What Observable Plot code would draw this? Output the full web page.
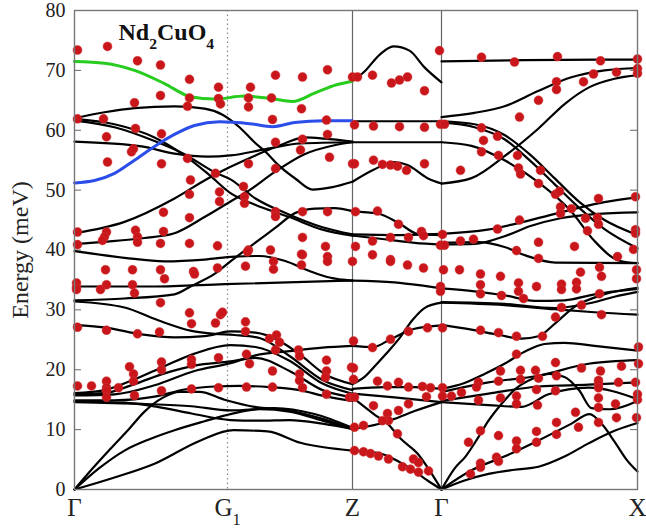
<!DOCTYPE html>
<html>
<head>
<meta charset="utf-8">
<script src="https://cdn.jsdelivr.net/npm/d3@7"></script>
<script src="https://cdn.jsdelivr.net/npm/@observablehq/plot@0.6"></script>
<style>
  html, body { margin: 0; padding: 0; background: #fff; }
  #chart { width: 646px; height: 530px; }
</style>
</head>
<body>
<div id="chart"></div>
<script>
// ---- axis values ----
const kTicks = [0, 153, 278, 367, 563];           // Γ, G1, Z, Γ, X (path distance)
const kLabels = ["Γ", "G1", "Z", "Γ", "X"];
const eTicks = [0, 10, 20, 30, 40, 50, 60, 70, 80];
const titleText = "Nd2CuO4";
const yLabel = "Energy (meV)";

// ---- highlighted branches ----
const greenBranch = [[0,71.5],[30,71.2],[60,70],[90,67.8],[116,65.6],[140,65.2],[170,65.7],[196,65.3],[218,64.8],[240,66.2],[262,67.6],[278,68.2]];
const blueBranch = [[0,51.2],[20,51.6],[40,52.8],[60,55],[80,57.3],[100,59.3],[120,60.8],[145,61.4],[175,61.1],[198,60.6],[220,61.3],[250,61.6],[278,61.6]];

// ---- calculated branches: Γ -> Z ----
const branchesGZ = [
  [[0,62.0],[30,63.0],[60,63.7],[100,64.0],[130,63.6],[148,62.6],[165,60.5],[180,58],[191,56.4],[205,54],[221,51.9],[238,50.1],[258,50.5],[278,51.4]],
  [[0,61.9],[40,61],[80,58.8],[110,55.8],[135,52.5],[156,49.5],[180,47.6],[215,45.5],[248,43.4],[278,42.4]],
  [[0,61.6],[40,60.5],[80,58.2],[110,56],[140,53],[156,51.8],[181,48.6],[215,45.9],[248,43.8],[278,42.6]],
  [[0,58.1],[67,57.3],[100,56.1],[133,55.6],[156,55.8],[190,56.8],[226,57.8],[278,58.0]],
  [[0,42.8],[50,44.7],[100,48.6],[133,51.9],[156,53.9],[181,55.8],[210,57.8],[230,58.8],[250,58.6],[278,58.1]],
  [[0,41.0],[33,41.4],[70,42],[100,42.8],[130,45.5],[156,48.1],[175,50],[200,53],[230,56],[260,57.5],[278,58]],
  [[0,31.6],[50,31.9],[100,32.6],[117,34],[140,36],[156,38.1],[175,40.5],[200,43.6],[221,46.2],[240,46.9],[260,47],[278,46.5]],
  [[0,39.8],[50,38.7],[90,38.1],[130,38.4],[160,38.9],[185,39.0],[210,38.2],[235,36.5],[255,35.4],[278,34.9]],
  [[0,33.9],[80,33.9],[150,34.3],[278,34.9]],
  [[0,27.5],[33,27.0],[67,25.9],[100,25.4],[130,25.6],[156,26.4],[181,26.2],[205,24.8],[225,22.6],[250,19.3],[278,17.6]],
  [[0,31.4],[50,30.4],[83,28.3],[117,26.5],[140,26.0],[160,25.8],[185,25.3],[215,22.3],[248,18.3],[278,16.6]],
  [[0,16.1],[30,16.6],[60,18.4],[90,20.6],[120,22.7],[156,24.1],[181,23.8],[215,21.5],[248,17.7],[278,16.0]],
  [[0,15.9],[30,16.1],[60,17.6],[90,19.4],[120,20.7],[156,21.4],[181,22.0],[215,19.8],[248,16.6],[278,15.4]],
  [[0,15.7],[40,15.9],[80,17.4],[120,19.8],[156,21.1],[181,22.4],[215,23.1],[248,23.7],[278,24.0]],
  [[0,14.9],[40,14.9],[80,15.5],[110,16.7],[140,17.2],[165,17.3],[195,17.1],[225,16.6],[250,15.6],[278,14.8]],
  [[0,14.7],[50,14.5],[83,13.8],[117,12.7],[156,11.6],[185,11.5],[215,11.6],[248,11],[278,10.1]],
  [[0,14.6],[67,14.3],[117,13.9],[156,13.2],[200,13.6],[240,12.6],[278,10.3]],
  [[0,0],[18,3.5],[36,6.8],[55,10.2],[70,13],[88,15.3],[105,16.3],[125,16.3],[150,15],[180,13.8],[215,13.2],[248,11.8],[278,10.1]],
  [[0,0],[25,3.6],[50,6.5],[75,8.4],[100,9.9],[130,11.4],[156,12.6],[185,13.4],[215,13.0],[248,11.5],[278,10.1]],
  [[0,0],[40,2],[80,4.3],[126,8.2],[159,9.9],[193,9.7],[226,7.8],[278,6.5]]
];

// ---- calculated branches: Z -> Γ ----
const branchesZG = [
  [[278,68.2],[290,69.8],[305,72.6],[319,74],[335,73.3],[350,70.5],[367,68]],
  [[278,61.5],[367,61.5]],
  [[278,58],[367,58]],
  [[278,51.4],[299,53.4],[319,54.7],[333,54.2],[353,52],[367,51.1]],
  [[278,46.4],[303,46.1],[326,44.3],[343,42.7],[367,42.5]],
  [[278,42.6],[320,42.5],[367,42.7]],
  [[278,42.4],[310,41.8],[340,41.2],[367,40.9]],
  [[278,34.9],[320,34.6],[350,34],[367,33.6]],
  [[278,24],[299,23.8],[316,25.1],[339,26.8],[367,27.4]],
  [[278,17.6],[290,18.8],[303,21.1],[315,23.3],[326,25.5],[338,28.3],[350,30.3],[367,31.2]],
  [[278,16.8],[310,17.1],[340,17.1],[367,16.8]],
  [[278,16.0],[320,15.4],[367,14.6]],
  [[278,15.4],[290,13.8],[300,12.5],[313,11],[326,8.5],[343,6],[355,3.2],[367,0]],
  [[278,10.1],[303,10.9],[320,11.8],[340,13.1],[367,14.6]],
  [[278,6.5],[306,6],[333,3.8],[353,1.5],[367,0]]
];

// ---- calculated branches: Γ -> X ----
const branchesGX = [
  [[367,71.5],[450,71.7],[563,71.8]],
  [[367,62.2],[400,62.9],[430,64],[463,66.5],[496,68.8],[530,70],[563,70.4]],
  [[367,61.5],[400,61],[430,59.2],[455,56],[480,52],[505,48],[530,45],[563,42.5]],
  [[367,61.3],[400,60.5],[430,58.5],[455,55],[480,51],[505,47],[530,43.5],[563,40.3]],
  [[367,58],[397,57.4],[431,54.9],[464,51.3],[497,46.4],[520,41.5],[545,38.2],[563,37.8]],
  [[367,51.1],[397,52],[431,55.8],[464,60.3],[491,64.5],[515,67.2],[540,68.6],[563,69.2]],
  [[367,42.7],[413,43.4],[456,45],[496,46.7],[530,48],[563,48.8]],
  [[367,40.9],[400,41],[430,42.3],[456,44],[486,45.3],[520,46],[563,46.3]],
  [[367,41.2],[404,41.3],[430,40.5],[451,39.1],[481,37.9],[563,37.8]],
  [[367,33.6],[400,33.1],[431,32.4],[460,31.5],[490,31.6],[520,32.6],[563,33.5]],
  [[367,31.3],[430,31.0],[480,30.3],[515,31.1],[540,32.2],[563,33.0]],
  [[367,31.2],[430,30.8],[480,30.1],[520,29.6],[563,29.2]],
  [[367,27.5],[397,26.7],[425,25.8],[447,25.2],[464,25.6],[481,27.8],[500,30.5],[530,32.6],[563,33.7]],
  [[367,16.8],[390,17.8],[410,19.3],[430,21],[450,23],[470,24.3],[490,24.5],[520,24],[563,23.2]],
  [[367,16.3],[414,17.9],[464,19],[514,21],[563,21.6]],
  [[367,14.6],[414,14.1],[447,13.8],[474,15.9],[514,17],[563,15.1]],
  [[367,14.8],[414,16],[464,17.2],[514,17.5],[563,17.9]],
  [[367,0],[380,3.5],[391,5.5],[403,8.5],[414,11.5],[428,14.5],[441,16.8],[458,18.5],[475,19.3],[490,18.8],[505,16.5],[517,13.6],[535,13.4],[563,14.8]],
  [[367,0],[397,3.2],[431,5.6],[464,8.2],[497,11],[515,12.6],[528,10.8],[540,8],[552,5],[563,3]],
  [[367,0],[390,1.5],[414,2.6],[440,3.3],[464,3.8],[490,5.5],[514,7.7],[540,9.8],[563,11.1]]
];

// ---- measured points ----
const pointsGZ = [
  [3,73.4],[33,74.0],[63,71.6],[86,70.9],[115,68.5],[144,67.2],[144,65.3],[146,64.4],[115,65.4],[113,64.0],[86,65.8],[60,64.6],
  [3,61.9],[29,61.9],[32,58.9],[33,54.7],[61,60.3],[57,56.4],[59,56.9],[87,59.4],[87,54.4],[113,55.3],[116,51.7],[115,49.3],[141,52.8],[145,49.7],[145,48.1],[89,46.3],[115,45.4],
  [3,43.0],[32,43.0],[30,42.2],[61,43.3],[89,43.1],[63,42.2],[63,41.3],[3,40.9],[28,41.6],[86,41.1],[115,41.1],[143,40.7],
  [176,67.2],[174,65.4],[174,63.9],[201,69.2],[197,65.4],[198,61.8],[228,68.9],[227,63.6],[253,70.1],[252,61.7],[278,68.9],[283,68.9],
  [228,58.5],[226,56.7],[253,59.3],[255,55.5],[201,58.0],[201,53.6],[174,54.4],[278,54.4],
  [169,50.6],[170,48.9],[170,47.8],[201,46.4],[201,45.6],[228,46.4],[253,46.4],[281,46.4],
  [228,42.1],[174,40.0],[196,40.0],[251,40.6],[228,39.2],[281,40.6],
  [31,36.7],[58,36.7],[86,36.7],[90,35.2],[119,36.4],[120,36.0],[143,37.0],[2,34.5],[2,33.8],[2,33.4],[32,34.2],[26,33.4],[58,34.2],[60,32.8],[86,31.2],[115,29.5],[117,27.7],[146,29.2],[141,27.8],[85,26.3],[63,26.0],[32,26.6],[3,27.1],
  [173,39.7],[171,37.3],[199,38.1],[199,36.8],[227,39.3],[227,37.5],[253,38.9],[253,38.1],[278,38.1],
  [148,29.6],[171,28.0],[171,26.4],[195,25.2],[202,25.8],[205,24.6],[201,23.3],[224,23.3],[225,22.3],[172,22.6],[175,21.0],[198,19.8],[198,17.1],[172,17.1],[225,19.3],[225,18.2],[228,17.0],[252,21.6],[252,19.8],[251,18.7],[252,15.9],[277,20.4],[279,18.4],[275,15.4],[280,15.4],[280,10.4],[280,6.5],
  [3,17.3],[17,17.3],[32,18.1],[32,17.0],[32,16.5],[32,15.4],[44,17.0],[55,20.5],[59,19.3],[59,18.1],[60,15.7],[87,21.3],[87,20.0],[87,16.5],[117,21.7],[117,20.9],[144,22.0],[117,16.8],[144,17.0]
];
const pointsZG = [
  [298,69.2],[317,67.9],[325,68.4],[333,68.9],[350,66.6],[365,73.3],[280,60.9],[299,60.7],[325,60.6],[350,60.5],[366,61.0],[370,61.0],
  [280,54.4],[299,55.0],[308,54.3],[316,54.2],[323,54.0],[332,53.3],[350,54.4],
  [303,46.5],[324,44.3],[334,42.1],[347,43.1],[349,42.4],[366,40.8],[370,40.8],[298,41.5],[316,42.1],[298,39.2],[316,38.4],
  [316,38.1],[333,37.5],[349,37.0],[366,33.9],[366,33.1],
  [279,24.8],[298,23.7],[316,25.1],[334,26.4],[353,27.0],[368,27.0],
  [279,20.3],[303,18.1],[313,17.3],[324,17.9],[334,17.1],[348,17.2],[352,15.5],[356,17.0],[368,17.0],[368,15.6],
  [299,14.0],[313,12.7],[314,11.5],[324,13.2],[334,14.3],[308,11.5],[289,10.7],[323,9.3],
  [289,6.3],[296,6.0],[304,5.6],[314,5.1],[328,3.8],[336,3.4],[344,2.9],[339,5.1],[354,3.1],[344,4.5]
];
const pointsGX = [
  [407,72.2],[440,71.4],[483,72.3],[526,71.6],[563,71.9],[563,70.3],[563,69.5],[542,69.7],[519,69.4],[509,68.1],[482,68.1],[482,66.8],[464,65.0],[445,62.2],
  [386,53.3],[407,60.4],[409,58.3],[423,59.0],[407,56.4],[424,55.8],[443,55.8],[444,53.7],[446,52.7],[466,53.3],[464,51.1],[481,49.3],[485,49.8],[486,47.2],[486,46.1],[497,46.9],[513,43.2],[524,48.6],[511,45.3],[523,45.4],[524,44.3],[561,48.9],[561,43.4],[561,42.8],[559,40.1],[500,40.6],[464,41.3],[445,45.0],[423,43.5],[442,39.9],[464,38.6],[543,38.9],[386,41.5],[399,41.8],[368,42.6],
  [369,36.7],[385,36.7],[406,36.0],[426,35.6],[406,34.2],[444,34.5],[462,33.9],[444,33.1],[487,34.3],[487,33.4],[502,34.6],[502,33.5],[506,36.3],[525,37.1],[527,35.6],[562,36.7],[562,35.2],
  [406,32.7],[427,32.4],[449,31.9],[525,32.7],[507,30.8],[487,30.4],[481,28.8],[468,25.6],[442,25.6],[424,26.2],[406,26.6],[527,29.2],[564,23.8],[442,22.6],[481,21.2],
  [426,19.8],[446,19.9],[461,19.9],[446,18.4],[464,18.6],[482,19.0],[507,20.3],[526,19.8],[547,20.6],[564,21.0],[524,18.2],[524,17.6],[524,17.0],[544,17.9],[561,17.9],[404,17.9],[424,18.1],[377,15.6],[387,16.2],[402,17.1],[404,14.9],[426,15.3],[442,15.6],[442,14.3],[462,16.7],[463,14.1],[481,16.5],[524,15.3],[524,13.7],[541,14.3],[563,15.0],[563,15.9],[542,12.0],[562,12.0],[524,11.2],[501,12.9],[504,10.4],[482,11.2],[482,9.2],[462,9.7],[462,7.9],[442,8.1],[442,6.8],[424,9.0],[406,9.8],[394,7.9],[422,5.4],[424,4.7],[406,4.4],[406,3.7],[396,2.6]
];

// ---- build tables ----
function toRows(branches, prefix) {
  const rows = [];
  branches.forEach((b, i) => b.forEach(([k, e]) => rows.push({id: prefix + i, k, e})));
  return rows;
}
const blackRows = [
  ...toRows(branchesGZ, "gz"),
  ...toRows(branchesZG, "zg"),
  ...toRows(branchesGX, "gx")
];
const greenRows = toRows([greenBranch], "green");
const blueRows = toRows([blueBranch], "blue");
const pointRows = [...pointsGZ, ...pointsZG, ...pointsGX].map(([k, e]) => ({k, e}));

const serif = "'Liberation Serif', 'Times New Roman', serif";
const innerTicks = eTicks.filter(d => d > 0 && d < 80);

const chart = Plot.plot({
  width: 646,
  height: 530,
  marginLeft: 74,
  marginRight: 9,
  marginTop: 10,
  marginBottom: 41,
  style: {fontFamily: serif, background: "#fff", color: "#222", overflow: "visible"},
  x: {domain: [0, 563]},
  y: {domain: [0, 80]},
  marks: [
    Plot.ruleX([kTicks[1]], {stroke: "#888", strokeWidth: 1.2, strokeDasharray: "1.5,3"}),
    Plot.ruleX([kTicks[2], kTicks[3]], {stroke: "#666", strokeWidth: 1.2}),
    Plot.ruleY(innerTicks, {x1: 0, x2: 7, stroke: "#666", strokeWidth: 1}),
    Plot.ruleY(innerTicks, {x1: 556, x2: 563, stroke: "#666", strokeWidth: 1}),
    Plot.line(blackRows, {x: "k", y: "e", z: "id", curve: "monotone-x", stroke: "#000", strokeWidth: 2.2}),
    Plot.line(blueRows, {x: "k", y: "e", z: "id", curve: "monotone-x", stroke: "#2b4de8", strokeWidth: 3}),
    Plot.line(greenRows, {x: "k", y: "e", z: "id", curve: "monotone-x", stroke: "#27cc1f", strokeWidth: 3}),
    Plot.dot(pointRows, {x: "k", y: "e", r: 4.5, fill: "#c8161b", stroke: "#d43a3a", strokeWidth: 0.8, strokeOpacity: 0.6}),
    Plot.frame({stroke: "#777", strokeWidth: 1.4}),
    Plot.axisY(eTicks, {
      tickSize: 0, tickPadding: 9, fontSize: 20, fontFamily: serif,
      tickFormat: d => String(d),
      label: yLabel, labelAnchor: "center", labelOffset: 64, labelArrow: "none"
    }),
    Plot.axisX(kTicks, {
      tickSize: 0, tickPadding: 9, fontSize: 25, fontFamily: serif,
      tickFormat: d => kLabels[kTicks.indexOf(d)], label: null
    }),
    Plot.text([titleText], {
      frameAnchor: "top-left", dx: 44, dy: 12, textAnchor: "start", lineAnchor: "top",
      fontSize: 24, fontWeight: "bold", fontFamily: serif, fill: "#111"
    })
  ]
});

// subscripts for chemical formula and G1 label
function subscriptify(node) {
  const s = node.textContent;
  const parts = s.match(/(\d+|[^\d]+)/g) || [];
  while (node.firstChild) node.removeChild(node.firstChild);
  const ns = "http://www.w3.org/2000/svg";
  parts.forEach(p => {
    const t = document.createElementNS(ns, "tspan");
    t.textContent = p;
    if (/^\d+$/.test(p)) {
      t.setAttribute("baseline-shift", "sub");
      t.setAttribute("font-size", "65%");
    }
    node.appendChild(t);
  });
}
d3.select(chart).selectAll("text").each(function() {
  const txt = this.textContent;
  if (txt === titleText || txt === "G1") subscriptify(this);
});
d3.select(chart).selectAll("text").filter(function() { return this.textContent === yLabel; })
  .attr("font-size", 24);

document.getElementById("chart").appendChild(chart);
</script>
</body>
</html>
